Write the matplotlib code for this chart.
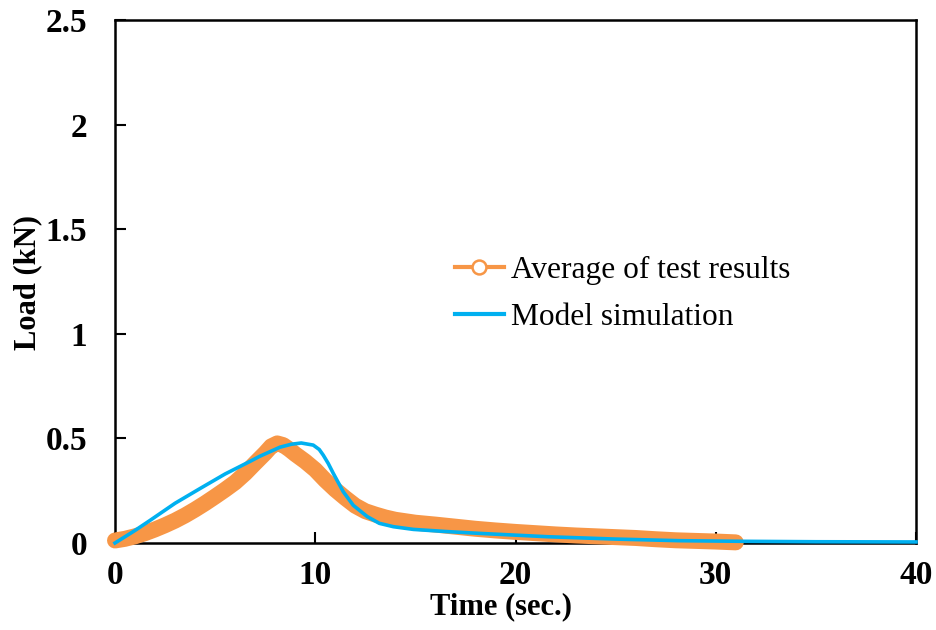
import matplotlib
matplotlib.use("Agg")
import matplotlib.pyplot as plt
from matplotlib.lines import Line2D

# Average of test results (orange)
test_t = [0, 0.5, 1, 1.5, 2, 2.5, 3, 3.5, 4, 4.5, 5, 5.5, 6, 6.5, 7, 7.5, 7.8,
          8.1, 8.4, 8.7, 9, 9.5, 10, 10.5, 11, 11.5, 12, 12.5, 13, 13.5, 14,
          14.5, 15, 16, 17, 18, 19, 20, 21, 22, 23, 24, 25, 26, 27, 28, 29, 30,
          31]
test_load = [0.012, 0.02, 0.032, 0.047, 0.065, 0.085, 0.107, 0.132, 0.16, 0.19,
             0.222, 0.255, 0.29, 0.333, 0.382, 0.43, 0.462, 0.476, 0.468, 0.448,
             0.425, 0.39, 0.35, 0.30, 0.255, 0.215, 0.178, 0.152, 0.136, 0.122,
             0.111, 0.104, 0.097, 0.088, 0.078, 0.068, 0.06, 0.053, 0.047, 0.041,
             0.036, 0.032, 0.028, 0.024, 0.018, 0.013, 0.01, 0.007, 0.003]

# Model simulation (blue)
model_t = [0, 1, 1.75, 3, 4.24, 5.5, 6.74, 7.24, 8.24, 8.8, 9.3, 9.9, 10.2,
           10.4, 10.65, 10.9, 11.4, 11.9, 12.6, 13.2, 13.9, 14.9, 16.5, 18.2,
           21.6, 24.9, 28.2, 31.5, 35, 40]
model_load = [0, 0.06, 0.108, 0.19, 0.26, 0.33, 0.39, 0.415, 0.458, 0.472, 0.478,
              0.468, 0.447, 0.42, 0.38, 0.333, 0.245, 0.18, 0.126, 0.094, 0.078,
              0.065, 0.055, 0.046, 0.030, 0.019, 0.011, 0.008, 0.006, 0.005]

x_ticks = [0, 10, 20, 30, 40]
y_ticks = [0, 0.5, 1, 1.5, 2, 2.5]
y_tick_labels = ["0", "0.5", "1", "1.5", "2", "2.5"]

ORANGE = "#F79646"
BLUE = "#00B0F0"

plt.rcParams["font.family"] = ["Liberation Serif", "DejaVu Serif"]

fig = plt.figure(figsize=(9.36, 6.3), dpi=100)
ax = fig.add_axes([115 / 936, 1 - 543 / 630, (916 - 115) / 936, (543 - 20) / 630])

ax.plot(test_t, test_load, color=ORANGE, lw=11.5, solid_capstyle="round",
        solid_joinstyle="round", zorder=2, clip_on=False)
ax.plot(model_t, model_load, color=BLUE, lw=2.6, zorder=3,
        solid_joinstyle="round", clip_on=False)

ax.set_xlim(0, 40)
ax.set_ylim(0, 2.5)
ax.set_xticks(x_ticks)
ax.set_xticklabels([str(v) for v in x_ticks])
ax.set_yticks(y_ticks)
ax.set_yticklabels(y_tick_labels)

for lab in ax.get_xticklabels() + ax.get_yticklabels():
    lab.set_fontweight("bold")
    lab.set_fontsize(24)

ax.tick_params(axis="x", direction="in", length=8, width=1.5, pad=12)
ax.tick_params(axis="y", direction="in", length=8, width=1.5, pad=20)
for s in ax.spines.values():
    s.set_linewidth(1.8)
    s.set_zorder(1)

ax.set_xlabel("Time (sec.)", fontsize=22, fontweight="bold", labelpad=0)
ax.xaxis.set_label_coords((501 - 115) / 801, -(607 - 543) / 523)
ax.xaxis.label.set_va("center")
ax.set_ylabel("Load (kN)", fontsize=22, fontweight="bold")
ax.yaxis.set_label_coords(-(115 - 28) / 801, (543 - 283) / 523)
ax.yaxis.label.set_va("center")

handles = [
    Line2D([], [], color=ORANGE, lw=3, marker="o", ms=10, mfc="white",
           mec=ORANGE, mew=1.8),
    Line2D([], [], color=BLUE, lw=3),
]
ax.legend(handles, ["Average of test results", "Model simulation"],
          loc="center left", bbox_to_anchor=((455 - 115) / 801, (543 - 294) / 523),
          frameon=False, fontsize=22.6, handlelength=1.56, handletextpad=0.22,
          labelspacing=0.58, borderpad=0, borderaxespad=0)

fig.savefig("out.png", dpi=100)
